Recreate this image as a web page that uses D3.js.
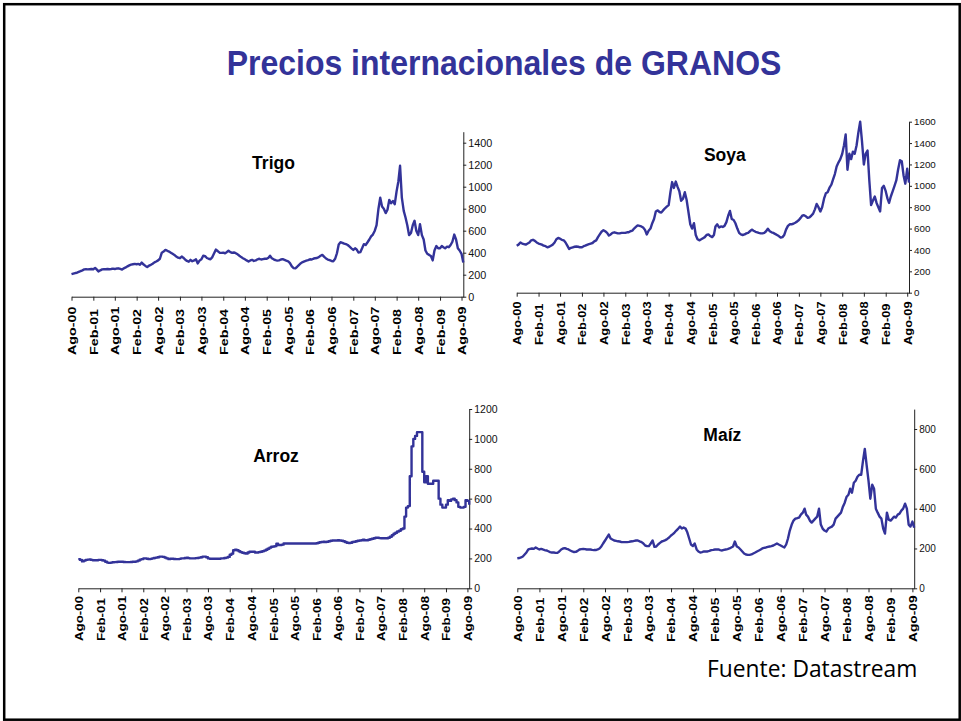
<!DOCTYPE html>
<html>
<head>
<meta charset="utf-8">
<script src="https://cdn.jsdelivr.net/npm/d3@7"></script>
<style>
html,body{margin:0;padding:0;background:#fff;}
svg{display:block;}
</style>
</head>
<body>
<svg id="chart" width="961" height="721"></svg>
<script>
// ---------- DATA ----------
const mainTitle = "Precios internacionales de GRANOS";
const sourceText = "Fuente: Datastream";
const tickLabels = ["Ago-00","Feb-01","Ago-01","Feb-02","Ago-02","Feb-03","Ago-03","Feb-04","Ago-04",
  "Feb-05","Ago-05","Feb-06","Ago-06","Feb-07","Ago-07","Feb-08","Ago-08","Feb-09","Ago-09"];
const seriesNames = ["Trigo","Soya","Arroz","Maíz"];

// half-monthly values from Ago-00 (each row = six months)
const trigo = [
  205,210,215,218,225,232,240,248,250,248,250,252,
  250,262,248,230,240,248,250,250,252,250,252,255,
  252,256,258,252,246,258,266,276,285,292,295,298,
  295,298,290,310,292,280,270,282,290,300,312,320,
  330,345,400,410,425,418,410,400,390,380,365,355,
  350,365,355,338,325,318,335,322,330,340,302,328,
  340,372,368,352,345,340,360,395,428,415,400,398,
  400,395,405,418,405,398,402,396,385,372,360,350,
  340,330,320,330,335,325,330,340,345,338,342,345,
  345,355,372,350,340,332,328,330,338,342,335,328,
  322,305,275,260,258,272,290,305,315,322,328,332,
  340,338,345,350,352,360,372,380,362,348,338,332,
  325,322,345,395,475,495,490,482,478,470,455,440,
  425,440,430,402,405,440,478,470,495,520,548,565,
  600,650,800,900,820,800,760,790,880,850,870,840,
  960,1050,1190,900,780,720,650,560,580,650,690,600,
  560,660,560,520,420,390,380,370,330,420,460,440,
  440,460,450,440,455,450,470,500,565,520,440,420,
  390,310
];
const soya = [
  440,450,470,460,455,450,460,470,490,495,485,470,
  460,455,450,440,435,425,430,440,450,470,500,512,
  505,495,490,470,440,410,420,425,430,432,430,425,
  425,435,440,448,455,460,465,480,490,520,545,570,
  585,575,560,535,545,560,565,560,555,555,560,560,
  560,565,565,575,580,600,615,630,625,620,610,590,
  545,580,600,650,690,760,770,755,750,770,790,805,
  820,940,1035,980,1040,990,950,860,880,940,870,760,
  640,600,650,540,500,490,500,510,520,540,545,530,
  520,540,620,640,610,620,615,625,660,720,765,690,
  680,650,600,560,545,540,545,555,560,575,590,580,
  570,565,560,555,555,560,575,598,575,565,560,550,
  540,530,515,520,540,590,625,640,640,645,655,665,
  680,700,720,725,715,700,705,720,740,780,830,800,
  760,800,880,930,940,980,1010,1060,1110,1180,1220,1250,
  1300,1380,1480,1150,1300,1250,1320,1300,1380,1500,1600,1420,
  1200,1300,1330,1050,820,860,900,840,800,760,980,1000,
  950,880,840,900,950,1000,1050,1150,1240,1230,1100,1020,
  1160,1030
];
const arroz = [
  195,190,180,185,190,192,193,190,188,188,188,190,
  190,188,185,178,172,170,172,174,175,176,178,178,
  178,176,175,175,175,176,178,178,180,185,192,195,
  200,200,198,195,197,200,203,205,208,212,212,210,
  205,200,195,198,198,196,195,195,197,200,200,203,
  205,202,200,200,200,202,203,205,208,212,212,208,
  200,198,198,198,198,198,198,200,200,203,205,210,
  225,232,255,258,255,248,242,238,235,232,240,245,
  245,245,240,240,242,245,248,252,258,265,272,278,
  280,282,298,290,290,292,300,300,300,300,300,300,
  300,300,300,300,300,300,300,300,300,300,300,300,
  302,305,308,310,312,310,312,315,318,320,320,320,
  322,320,318,315,310,305,303,305,310,312,315,318,
  320,322,325,322,322,325,328,332,335,338,338,336,
  335,335,335,335,338,345,355,365,372,380,385,395,
  400,480,540,550,750,950,1000,1020,1045,1045,1045,780,
  710,750,700,700,700,720,720,720,600,560,540,540,
  560,590,585,595,600,590,575,545,540,540,545,590,
  585,560
];
const maiz = [
  150,152,155,160,170,180,195,198,200,198,205,200,
  195,198,195,192,190,186,182,180,180,178,178,185,
  195,200,202,198,195,190,185,182,183,188,195,197,
  198,197,195,195,195,193,192,192,195,200,210,225,
  240,255,270,250,245,240,238,236,235,232,232,232,
  232,233,235,236,238,240,240,236,232,225,215,212,
  212,225,240,208,210,220,228,235,238,242,248,255,
  265,272,280,290,300,310,300,305,300,280,250,220,
  212,225,195,185,180,182,185,185,185,188,192,193,
  195,195,195,192,190,193,195,197,200,205,210,235,
  210,205,195,185,175,170,168,168,170,175,180,185,
  190,195,200,203,205,208,210,212,215,220,225,220,
  215,210,205,220,250,290,320,340,350,352,355,370,
  380,400,370,360,340,330,340,350,360,400,320,300,
  290,285,300,305,310,320,350,360,370,380,410,430,
  460,470,500,480,530,540,560,570,570,640,700,620,
  540,450,520,500,400,380,360,350,300,275,380,345,
  340,350,360,355,370,375,390,400,425,400,320,310,
  335,305
];
const trigoTicks = [0,200,400,600,800,1000,1200,1400];
const soyaTicks  = [0,200,400,600,800,1000,1200,1400,1600];
const arrozTicks = [0,200,400,600,800,1000,1200];
const maizTicks  = [0,200,400,600,800];
const axisMax = [1500, 1600, 1200, 900];

// ---------- LAYOUT ----------
const panels = [
  {name: seriesNames[0], values: trigo, ticks: trigoTicks, yMax: axisMax[0], x0: 71.5, x1: 463.3, yBase: 296.7, yTop: 131.7,
   tx: 273.5, ty: 169.3, labelBottom: 355, labelScale: 1.3, yFont: 10.8, step: false},
  {name: seriesNames[1], values: soya, ticks: soyaTicks, yMax: axisMax[1], x0: 516.7, x1: 909.0, yBase: 292.7, yTop: 121.7,
   tx: 724.8, ty: 160.7, labelBottom: 345, labelScale: 1.17, yFont: 9.8, step: false},
  {name: seriesNames[2], values: arroz, ticks: arrozTicks, yMax: axisMax[2], x0: 78.3, x1: 469.2, yBase: 588.3, yTop: 409,
   tx: 276, ty: 461.7, labelBottom: 641, labelScale: 1.21, yFont: 10.5, step: true},
  {name: seriesNames[3], values: maiz, ticks: maizTicks, yMax: axisMax[3], x0: 517.3, x1: 914.2, yBase: 588.3, yTop: 409.1,
   tx: 722.3, ty: 440.7, labelBottom: 642, labelScale: 1.25, yFont: 10, step: false}
];

const LINE_COLOR = "#333399";
const FONT = "'Liberation Sans', Arial, sans-serif";
const svg = d3.select("#chart");
svg.append("rect").attr("x",0).attr("y",0).attr("width",961).attr("height",721).attr("fill","#fff");
svg.append("rect").attr("x",4.2).attr("y",4.2).attr("width",955.5).attr("height",715.5)
  .attr("fill","none").attr("stroke","#000").attr("stroke-width",2.5);

svg.append("text").attr("transform","translate(504,75) scale(1,1.08)")
  .attr("text-anchor","middle").attr("font-family",FONT)
  .attr("font-weight","bold").attr("font-size",32).attr("fill",LINE_COLOR).text(mainTitle);

svg.append("text").attr("x",917.3).attr("y",676.7).attr("text-anchor","end")
  .attr("font-family","'Open Sans', sans-serif").attr("font-size",22.8).attr("fill","#000").text(sourceText);

const dateOf = i => new Date(2000, 7 + Math.floor(i/2), (i % 2) ? 16 : 1);
const tickDates = tickLabels.map((l,i) => new Date(2000, 7 + 6*i, 1));

panels.forEach(p => {
  const g = svg.append("g");
  const x = d3.scaleTime().domain([new Date(2000,7,1), new Date(2009,7,16)]).range([p.x0, p.x1]);
  const y = d3.scaleLinear().domain([0, p.yMax]).range([p.yBase, p.yTop]);

  // x axis
  const xa = g.append("g").attr("transform", `translate(0,${p.yBase})`)
    .call(d3.axisBottom(x).tickValues(tickDates).tickFormat((d,i) => tickLabels[i]).tickSize(4).tickSizeOuter(0));
  xa.attr("font-family", FONT);
  xa.select(".domain").attr("stroke","#222");
  xa.selectAll(".tick line").attr("stroke","#222");
  xa.selectAll(".tick text")
    .attr("x",0).attr("y",0).attr("dy","0.36em")
    .attr("text-anchor","start")
    .attr("transform", `translate(0,${p.labelBottom - p.yBase}) rotate(-90) scale(${p.labelScale},1)`)
    .attr("font-family",FONT)
    .attr("font-weight","bold").attr("font-size",11).attr("fill","#000");

  // y axis
  const ya = g.append("g").attr("transform", `translate(${p.x1},0)`)
    .call(d3.axisRight(y).tickValues(p.ticks).tickFormat(d3.format("d")).tickSize(3).tickPadding(2).tickSizeOuter(0));
  ya.attr("font-family", FONT);
  ya.select(".domain").attr("stroke","#222");
  ya.selectAll(".tick line").attr("stroke","#222");
  ya.selectAll(".tick text")
    .attr("font-family",FONT)
    .attr("font-size",p.yFont).attr("fill","#111");

  // line
  const line = d3.line()
    .x((d,i) => x(dateOf(i)))
    .y(d => y(d))
    .curve(p.step ? d3.curveStepAfter : d3.curveLinear);
  g.append("path").datum(p.values)
    .attr("d", line).attr("fill","none")
    .attr("stroke", LINE_COLOR).attr("stroke-width", 2.4).attr("stroke-linejoin","round");

  // panel title
  g.append("text").attr("x",p.tx).attr("y",p.ty).attr("text-anchor","middle")
    .attr("font-family",FONT)
    .attr("font-weight","bold").attr("font-size",17.5).attr("fill","#000").text(p.name);
});
</script>
</body>
</html>
